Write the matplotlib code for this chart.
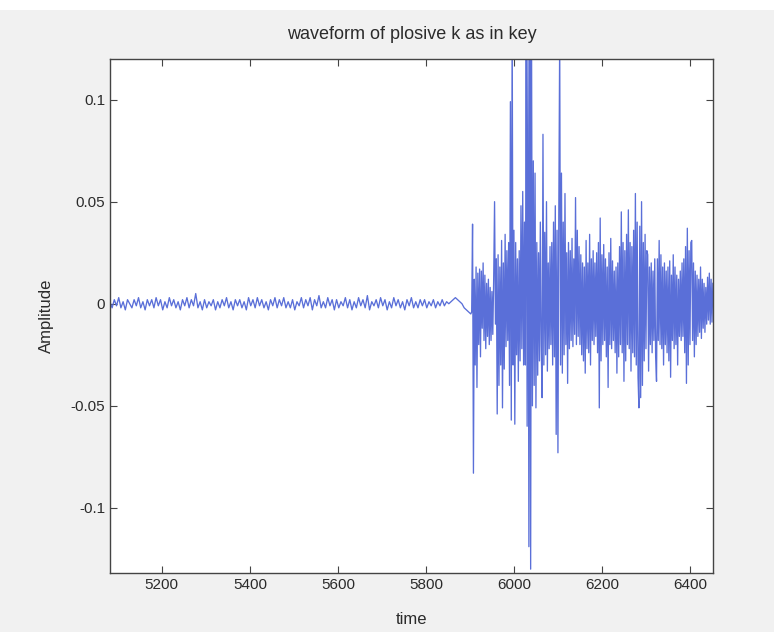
import numpy as np
import matplotlib
matplotlib.use("Agg")
import matplotlib.pyplot as plt
from matplotlib.patches import Rectangle

plt.rcParams['font.family'] = ['Liberation Sans', 'DejaVu Sans']
plt.rcParams['axes.unicode_minus'] = False

# background noise before the burst, one value every 5 samples from 5082
noise_start, noise_step = 5082, 5
noise_amp = [
    0.001, -0.002, 0.002, -0.001, 0.003, -0.002, 0.001, -0.003, 0.002, 0.000, -0.002,
    0.002, -0.001, 0.003, -0.002, 0.001, -0.003, 0.002, -0.001, 0.002, -0.002, 0.003,
    -0.001, 0.002, -0.003, 0.001, -0.002, 0.003, -0.001, 0.002, -0.002, 0.001, -0.003,
    0.002, -0.001, 0.003, -0.002, 0.002, -0.001, 0.005, -0.002, 0.001, -0.003, 0.002,
    -0.002, 0.001, -0.001, 0.002, -0.003, 0.001, -0.002, 0.002, -0.001, 0.003, -0.002,
    0.001, -0.003, 0.002, -0.001, 0.002, -0.002, 0.001, -0.003, 0.003, -0.001, 0.002,
    -0.002, 0.003, -0.001, 0.002, -0.002, 0.001, -0.003, 0.002, -0.001, 0.003, -0.002,
    0.002, -0.001, 0.003, -0.002, 0.001, -0.002, 0.002, -0.003, 0.001, -0.001, 0.003,
    -0.002, 0.002, -0.001, 0.003, -0.003, 0.002, -0.001, 0.004, -0.002, 0.001, -0.002,
    0.003, -0.001, 0.002, -0.003, 0.002, -0.002, 0.001, -0.001, 0.003, -0.002, 0.002,
    -0.003, 0.001, -0.002, 0.003, -0.001, 0.002, -0.002, 0.004, -0.003, 0.001, -0.001,
    0.002, -0.002, 0.003, -0.001, 0.002, -0.003, 0.001, -0.002, 0.003, -0.001, 0.002,
    -0.002, 0.001, -0.003, 0.002, -0.001, 0.003, -0.002, 0.001, -0.002, 0.002, -0.001,
    0.002, -0.002, 0.001, -0.001, 0.002, -0.002, 0.001, -0.001, 0.002, -0.001, 0.001,
    0.000, 0.001, 0.002, 0.003, 0.002, 0.001, 0.000, -0.002, -0.003, -0.004, -0.005,
]

# the release burst, one value every 2 samples from 5904
burst_start, burst_step = 5904, 2
burst_amp = [
    -0.004, 0.039, -0.083, 0.012, -0.030, 0.018, -0.041, 0.015, -0.020, 0.017,   # 5904
    -0.026, 0.016, -0.012, 0.020, -0.018, 0.014, -0.022, 0.010, -0.016, 0.012,   # 5924
    -0.020, 0.008, -0.018, 0.006, -0.015, 0.012, 0.050, -0.010, 0.022, -0.054,   # 5944
    0.024, -0.040, 0.018, -0.030, 0.031, -0.051, 0.020, -0.032, 0.034, -0.021,   # 5964
    0.026, -0.018, 0.030, -0.040, 0.099, -0.057, 0.140, -0.030, 0.036, -0.059,   # 5984
    0.030, -0.025, 0.022, -0.038, 0.026, -0.028, 0.048, -0.022, 0.055, -0.030,   # 6004
    0.040, -0.030, 0.150, -0.060, 0.120, -0.119, 0.160, -0.130, 0.135, -0.050,   # 6024
    0.070, -0.040, 0.064, -0.051, 0.030, -0.035, 0.025, -0.028, 0.040, -0.020,   # 6044
    -0.046, 0.083, -0.030, 0.035, -0.025, 0.050, -0.033, 0.020, -0.022, 0.028,   # 6064
    -0.020, 0.030, -0.030, 0.040, -0.026, 0.048, -0.064, 0.036, -0.073, 0.045,   # 6084
    0.130, -0.030, 0.064, -0.034, 0.040, -0.025, 0.054, -0.020, 0.025, -0.039,   # 6104
    0.030, -0.022, 0.026, -0.018, 0.032, -0.021, 0.022, -0.015, 0.052, -0.020,   # 6124
    0.036, -0.016, 0.028, -0.020, 0.024, -0.025, 0.020, -0.028, 0.018, -0.034,   # 6144
    0.031, -0.022, 0.020, -0.024, 0.034, -0.030, 0.022, -0.018, 0.026, -0.020,   # 6164
    0.020, -0.016, 0.025, -0.024, 0.030, -0.051, 0.042, -0.028, 0.024, -0.020,   # 6184
    0.029, -0.018, 0.022, -0.026, 0.018, -0.041, 0.025, -0.020, 0.032, -0.022,   # 6204
    0.021, -0.018, 0.016, -0.024, 0.018, -0.034, 0.020, -0.026, 0.028, -0.020,   # 6224
    0.045, -0.024, 0.030, -0.038, 0.026, -0.028, 0.034, -0.020, 0.046, -0.022,   # 6244
    0.030, -0.033, 0.028, -0.024, 0.036, -0.026, 0.054, -0.030, 0.040, -0.036,   # 6264
    -0.051, 0.038, -0.046, 0.050, -0.040, 0.030, -0.028, 0.034, -0.022, 0.026,   # 6284
    0.024, -0.033, 0.018, -0.020, 0.020, -0.024, 0.016, -0.018, 0.022, -0.026,   # 6304
    -0.038, 0.022, -0.018, 0.031, -0.020, 0.024, -0.022, 0.018, -0.030, 0.020,   # 6324
    -0.020, 0.016, -0.024, 0.018, -0.028, 0.021, -0.036, 0.014, -0.018, 0.024,   # 6344
    -0.022, 0.018, -0.020, 0.014, -0.030, 0.012, -0.016, 0.016, -0.018, 0.020,   # 6364
    -0.016, 0.022, -0.024, 0.028, -0.039, 0.037, -0.030, 0.026, -0.020, 0.030,   # 6384
    0.031, -0.018, 0.020, -0.026, 0.016, -0.020, 0.014, -0.016, 0.012, -0.014,   # 6404
    0.018, -0.017, 0.012, -0.012, 0.010, -0.014, 0.008, -0.010, 0.013, -0.008,   # 6424
    0.015, -0.010, 0.012, -0.009, 0.010,                                         # 6444
]

x_ticks = [5200, 5400, 5600, 5800, 6000, 6200, 6400]
y_ticks = [-0.1, -0.05, 0, 0.05, 0.1]
y_tick_labels = ['-0.1', '-0.05', '0', '0.05', '0.1']

noise_t = noise_start + noise_step * np.arange(len(noise_amp))
burst_t = burst_start + burst_step * np.arange(len(burst_amp))
t = np.concatenate([noise_t, burst_t])
amp = np.concatenate([noise_amp, burst_amp])

text_col = '#2b2b2b'

fig = plt.figure(figsize=(7.74, 6.32), dpi=100, facecolor='#f1f1f1')
# white strip along the top edge of the page
fig.patches.append(Rectangle((0, 0.984), 1, 0.016, transform=fig.transFigure,
                             facecolor='white', edgecolor='none', zorder=0))
ax = fig.add_axes([0.142, 0.093, 0.779, 0.814])
ax.set_facecolor('white')

ax.plot(t, amp, color='#5a6fd8', linewidth=0.95)

ax.set_xlim(5082, 6452)
ax.set_ylim(-0.132, 0.12)
ax.set_xticks(x_ticks)
ax.set_yticks(y_ticks)
ax.set_yticklabels(y_tick_labels)
ax.tick_params(direction='in', top=True, right=True, length=5,
               labelsize=11, colors='#444444', labelcolor=text_col)
for s in ax.spines.values():
    s.set_color('#444444')
    s.set_linewidth(1.0)

ax.set_title("waveform of plosive k as in key", fontsize=13, color=text_col, pad=14)
ax.set_xlabel("time", fontsize=12, color=text_col, labelpad=14)
ax.set_ylabel("Amplitude", fontsize=12, color=text_col, labelpad=12)

fig.savefig('out.png', dpi=100, facecolor=fig.get_facecolor())
